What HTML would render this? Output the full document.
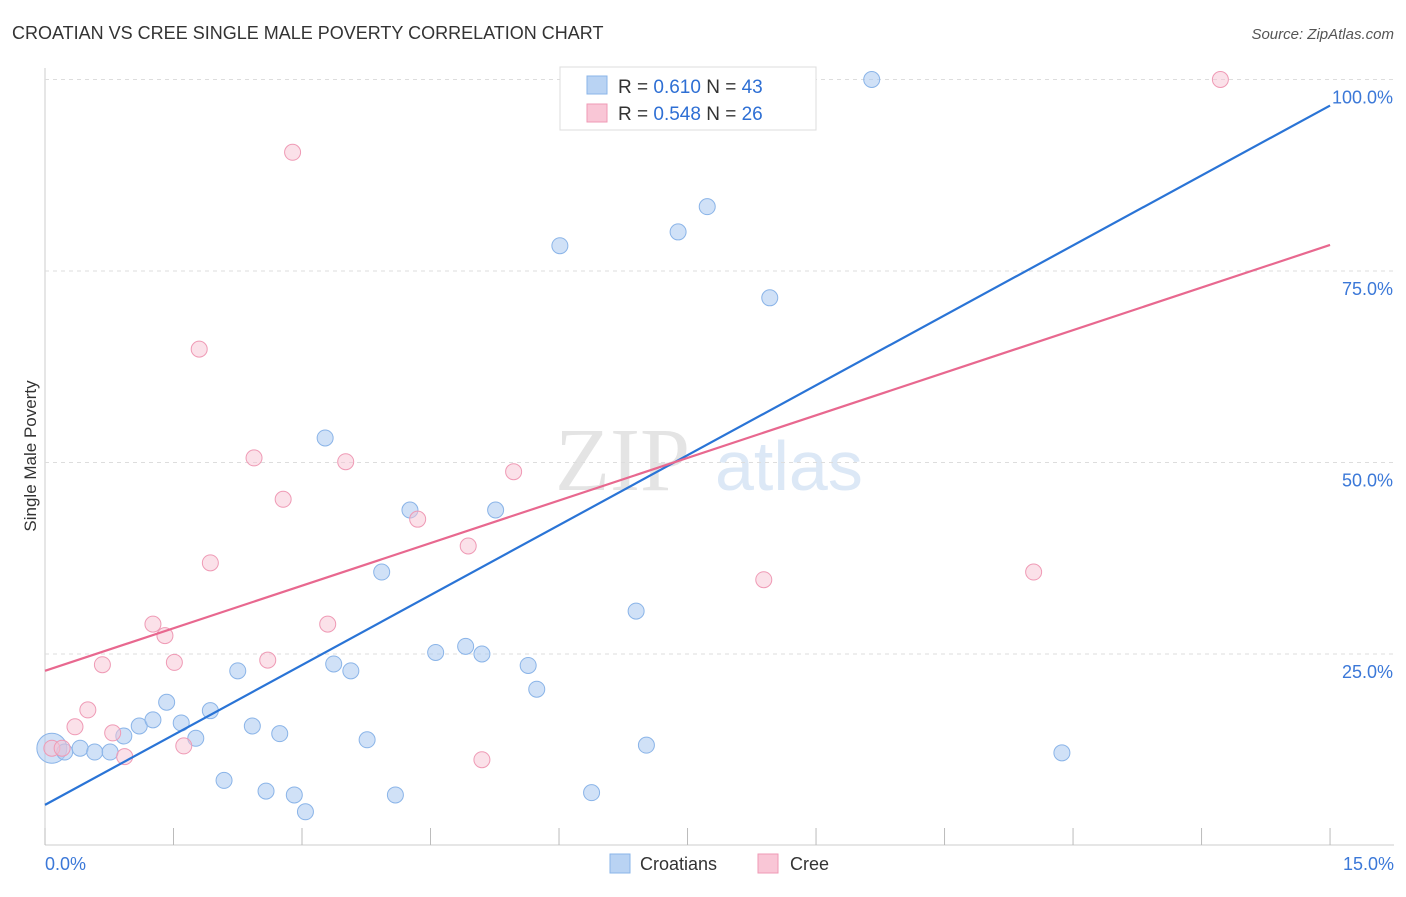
<!DOCTYPE html>
<html><head><meta charset="utf-8"><style>
body{margin:0;background:#fff;font-family:"Liberation Sans",sans-serif;}
</style></head><body>
<svg width="1406" height="892" xmlns="http://www.w3.org/2000/svg" id="svg">
<text x="12" y="39" font-size="18" fill="#333">CROATIAN VS CREE SINGLE MALE POVERTY CORRELATION CHART</text>
<text x="1394" y="39" font-size="15" fill="#555" font-style="italic" text-anchor="end">Source: ZipAtlas.com</text>
<text x="36" y="456" font-size="17" fill="#333" transform="rotate(-90 36 456)" text-anchor="middle">Single Male Poverty</text>
<text x="555" y="490" font-size="90" fill="#e4e4e4" font-family="Liberation Serif">ZIP</text>
<text x="715" y="490" font-size="70" fill="#dce8f6">atlas</text>
<g id="grid"></g><g id="pts"></g><g id="lines"></g>
<g>
<rect x="560" y="67" width="256" height="63" fill="#fff" stroke="#ddd"/>
<rect x="587" y="76" width="20" height="18" fill="#b9d3f3" stroke="#8ab4e8"/>
<text x="618" y="93" font-size="19" fill="#333">R = <tspan fill="#2e6fd4">0.610</tspan>   N = <tspan fill="#2e6fd4">43</tspan></text>
<rect x="587" y="104" width="20" height="18" fill="#f9c6d6" stroke="#ef9ab5"/>
<text x="618" y="120" font-size="19" fill="#333">R = <tspan fill="#2e6fd4">0.548</tspan>   N = <tspan fill="#2e6fd4">26</tspan></text>
</g>
<g>
<rect x="610" y="854" width="20" height="19" fill="#b9d3f3" stroke="#8ab4e8"/>
<text x="640" y="870" font-size="18" fill="#333">Croatians</text>
<rect x="758" y="854" width="20" height="19" fill="#f9c6d6" stroke="#ef9ab5"/>
<text x="790" y="870" font-size="18" fill="#333">Cree</text>
</g>
</svg>
<script>
const blueX=[0.08,0.23,0.41,0.58,0.76,0.92,1.10,1.26,1.42,1.59,1.76,1.93,2.09,2.25,2.42,2.58,2.74,2.91,3.04,3.27,3.37,3.57,3.76,3.93,4.09,4.26,4.56,4.91,5.10,5.26,5.64,5.74,6.01,6.30,6.38,6.90,7.02,7.39,7.73,8.46,8.84,9.65,11.87];
const blueY=[12.7,12.2,12.7,12.2,12.2,14.3,15.6,16.4,18.7,16.0,14.0,17.6,8.5,22.8,15.6,7.1,14.6,6.6,4.4,53.2,23.7,22.8,13.8,35.7,6.6,43.8,25.2,26.0,25.0,43.8,23.5,20.4,78.3,100,6.9,30.6,13.1,80.1,83.4,71.5,100,100,12.1];
const pinkX=[0.08,0.20,0.35,0.50,0.67,0.79,0.93,1.26,1.40,1.51,1.62,1.80,1.93,2.44,2.60,2.78,2.89,3.30,3.51,4.35,4.94,5.10,5.47,8.39,11.54,13.72];
const pinkY=[12.7,12.7,15.5,17.7,23.6,14.7,11.6,28.9,27.4,23.9,13.0,64.8,36.9,50.6,24.2,45.2,90.5,28.9,50.1,42.6,39.1,11.2,48.8,34.7,35.7,100];
const blueLine=[5.3,96.6];
const pinkLine=[22.8,78.4];
const yTicks=[25,50,75,100];
const xTicks=[0,1.5,3,4.5,6,7.5,9,10.5,12,13.5,15];
const NS="http://www.w3.org/2000/svg";
const X=v=>45+v*85.67, Y=v=>845.5-v*7.66;
function mk(t,a,p){const e=document.createElementNS(NS,t);for(const k in a)e.setAttribute(k,a[k]);document.getElementById(p).appendChild(e);return e;}
let ax=mk('line',{x1:45,y1:845,x2:1394,y2:845,stroke:'#ccc'},'grid');


let ay=mk('line',{x1:45,y1:68,x2:45,y2:845,stroke:'#ccc'},'grid');


yTicks.forEach(t=>{
 let g=mk('line',{x1:45,y1:Y(t),x2:1394,y2:Y(t),stroke:'#ddd','stroke-dasharray':'4,4'},'grid');
 
 
 let l=mk('text',{x:1393,y:Y(t)+24,'font-size':18,fill:'#3b78d8','text-anchor':'end'},'grid');
 l.textContent=t.toFixed(1)+'%';
 
 
});
xTicks.forEach(t=>{
 let k=mk('line',{x1:X(t),y1:828,x2:X(t),y2:845,stroke:'#bbb'},'grid');
 
 
});
[[0,'start',45],[15,'end',1394]].forEach(([v,a,x])=>{
 let l=mk('text',{x:x,y:870,'font-size':18,fill:'#3b78d8','text-anchor':a},'grid');
 l.textContent=v.toFixed(1)+'%';
 
 
});
blueX.forEach((x,i)=>{
 let c=mk('circle',{cx:X(x),cy:Y(blueY[i]),r:i==0?15:8,fill:'rgba(170,200,240,0.55)',stroke:'#8ab4e8','stroke-width':1},'pts');
 
 
});
pinkX.forEach((x,i)=>{
 let c=mk('circle',{cx:X(x),cy:Y(pinkY[i]),r:8,fill:'rgba(248,195,212,0.5)',stroke:'#ef9ab5','stroke-width':1},'pts');
 
 
});
let bl=mk('line',{x1:X(0),y1:Y(blueLine[0]),x2:X(15),y2:Y(blueLine[1]),stroke:'#2a74d6','stroke-width':2.2},'lines');


let pl=mk('line',{x1:X(0),y1:Y(pinkLine[0]),x2:X(15),y2:Y(pinkLine[1]),stroke:'#e8688f','stroke-width':2.2},'lines');


</script>
</body></html>
